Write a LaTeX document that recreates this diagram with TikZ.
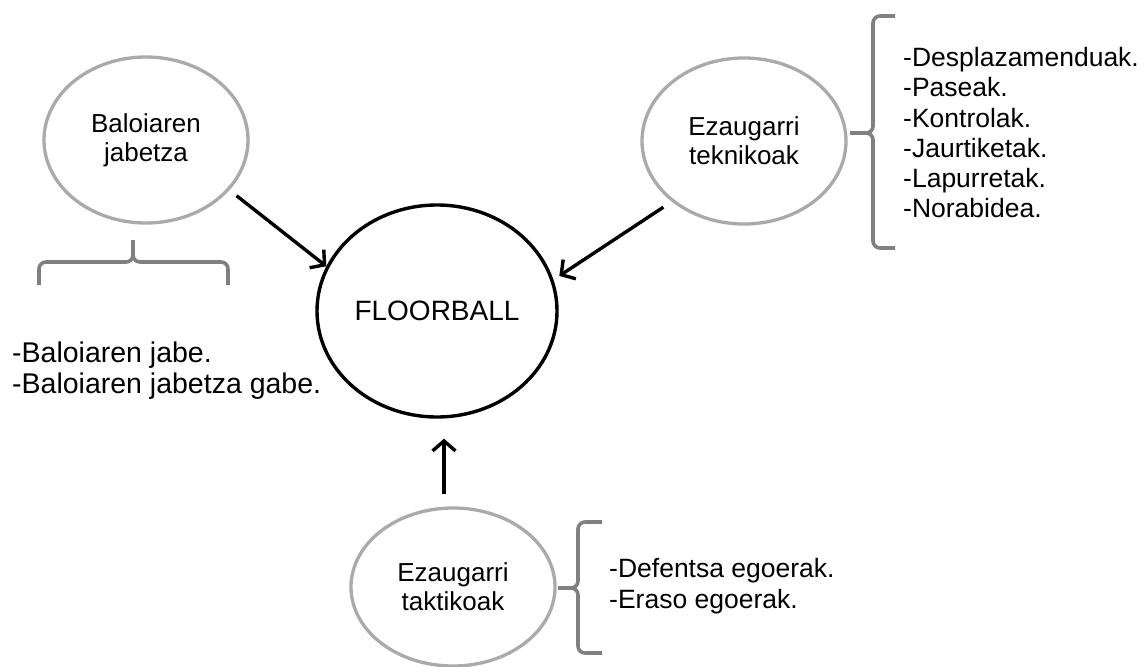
\documentclass[tikz,border=0pt]{standalone}
\usepackage{fontspec}
\setmainfont{Liberation Sans}
\usetikzlibrary{shapes.geometric,arrows.meta}
\definecolor{ellgray}{RGB}{170,170,170}
\definecolor{bracegray}{RGB}{128,128,128}
\tikzset{
  oval/.style={ellipse, draw=ellgray, line width=3.3pt, inner sep=0pt,
    minimum width=204pt, minimum height=166pt, align=center,
    font=\fontsize{26}{29}\selectfont},
  hub/.style={ellipse, draw=black, line width=3.4pt, inner sep=0pt,
    minimum width=240pt, minimum height=212pt,
    font=\fontsize{28}{32}\selectfont},
  arr/.style={draw=black, line width=3.4pt, -{Straight Barb[length=10pt,width=23pt]}},
  bracepath/.style={draw=bracegray, line width=3.6pt, rounded corners=7pt},
  listtext/.style={anchor=base west, inner sep=0pt}
}
\begin{document}
\begin{tikzpicture}[x=1pt,y=-1pt]
\useasboundingbox[fill=white] (0,0) rectangle (1147,666);

\node[hub] (fb) at (437,311) {FLOORBALL};
\node[oval] (bal) at (146,140) {Baloiaren\\jabetza};
\node[oval] (tek) at (744,141) {Ezaugarri\\teknikoak};
\node[oval, minimum height=158pt] (tak) at (453,587) {Ezaugarri\\taktikoak};

% arrows
\draw[arr, shorten <=9pt] (bal.-31) -- (fb.158);
\draw[arr, shorten <=10pt, shorten >=7pt] (tek.220) -- (fb.15.7);
\draw[arr] ([xshift=-9pt,yshift=12pt]tak.north) -- ([xshift=7pt,yshift=-20pt]fb.south);

% braces
\draw[bracepath] (39,285) -- (39,262) -- (133,262) -- (133,240);
\draw[bracepath] (228,285) -- (228,262) -- (133,262) -- (133,240);

\draw[bracepath] (895,16) -- (873,16) -- (873,133) -- (850,133);
\draw[bracepath] (895,248) -- (873,248) -- (873,133) -- (850,133);

\draw[bracepath] (602,522) -- (578,522) -- (578,588) -- (558,588);
\draw[bracepath] (602,653) -- (578,653) -- (578,588) -- (558,588);

% lists
\node[listtext] (l1) at (12,362) {\fontsize{28.5}{31}\selectfont
  \begin{tabular}[t]{@{}l@{}}-Baloiaren jabe.\\-Baloiaren jabetza gabe.\end{tabular}};
\node[listtext] (l2) at (903,67) {\fontsize{26.5}{30}\selectfont
  \begin{tabular}[t]{@{}l@{}}-Desplazamenduak.\\-Paseak.\\-Kontrolak.\\-Jaurtiketak.\\-Lapurretak.\\-Norabidea.\end{tabular}};
\node[listtext] (l3) at (609,577) {\fontsize{26.5}{31}\selectfont
  \begin{tabular}[t]{@{}l@{}}-Defentsa egoerak.\\-Eraso egoerak.\end{tabular}};
\end{tikzpicture}
\end{document}
